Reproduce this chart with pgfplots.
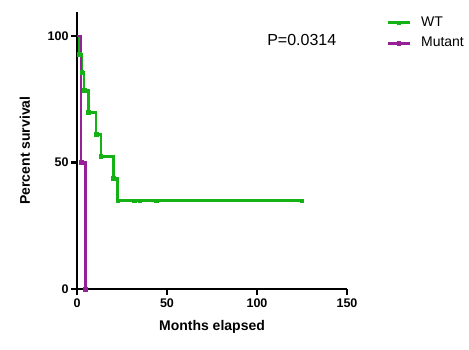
\documentclass[border=0pt]{standalone}
\usepackage{fontspec}
\setmainfont{Liberation Sans}
\usepackage{pgfplots}
\pgfplotsset{compat=1.18}
\definecolor{wtgreen}{RGB}{20,178,20}
\definecolor{mutpurple}{RGB}{150,32,150}
\begin{document}
\begin{tikzpicture}
\path[use as bounding box] (-77pt,-60pt) rectangle (392pt,289pt);
\begin{axis}[
  at={(0,0)}, anchor=south west,
  scale only axis, width=270pt, height=277pt,
  xmin=0, xmax=150, ymin=0, ymax=109.5,
  axis x line*=bottom, axis y line*=left,
  axis line style={line width=2.5pt, black},
  xtick={0,50,100,150}, ytick={0,50,100},
  tick align=outside, major tick length=6pt,
  tick style={line width=2.3pt, black},
  /pgf/number format/assume math mode=true,
  ticklabel style={font=\bfseries\fontsize{12.5}{14}\selectfont},
  yticklabel style={xshift=1pt},
  xlabel={Months elapsed}, ylabel={Percent survival},
  label style={font=\bfseries\fontsize{14}{16}\selectfont},
  xlabel style={at={(axis description cs:0.5,-0.136)}, anchor=center},
  ylabel style={at={(axis description cs:-0.193,0.5)}, anchor=center},
  legend style={draw=none, fill=none, at={(rel axis cs:1.147,0.924)}, anchor=west,
    inner sep=0pt, row sep=7.6pt,
    font=\fontsize{14}{16}\selectfont,
    nodes={inner sep=0pt, text height=10pt, text depth=3pt},
    /tikz/every odd column/.style={column sep=10pt}},
  legend cell align=left,
  legend image code/.code={\draw[#1,mark indices={2},mark size=1.6pt] plot coordinates {(0pt,0pt) (10.8pt,0pt) (21.6pt,0pt)};},
  clip=false,
]
\addplot[const plot, wtgreen, line width=2.6pt, mark=square*, mark size=1.8pt,
  mark options={solid, line width=0.6pt}, mark indices={2,3,4,5,6,7,8,9,10}]
  coordinates {(0,100) (1.2,92.86) (2.6,85.71) (3.9,78.57) (6.3,69.84) (10.6,61.11) (13.3,52.38) (20.2,43.65) (22.6,34.92) (124.8,34.92)};
\addlegendentry{WT}
\addplot[const plot, mutpurple, line width=2.6pt, mark=square*, mark size=1.8pt,
  mark options={solid, line width=0.6pt}, mark indices={2,3}]
  coordinates {(0,100) (2.3,50) (4.7,0)};
\addlegendentry{Mutant}
\addplot[only marks, wtgreen, mark=square*, mark size=1.8pt, mark options={line width=0.6pt}, forget plot]
  coordinates {(31.7,34.92) (35,34.92) (43.9,34.92)};
\node[anchor=west, font=\fontsize{16}{18}\selectfont, inner sep=0pt] at (rel axis cs:0.704,0.899) {P=0.0314};
\end{axis}
\end{tikzpicture}
\end{document}
